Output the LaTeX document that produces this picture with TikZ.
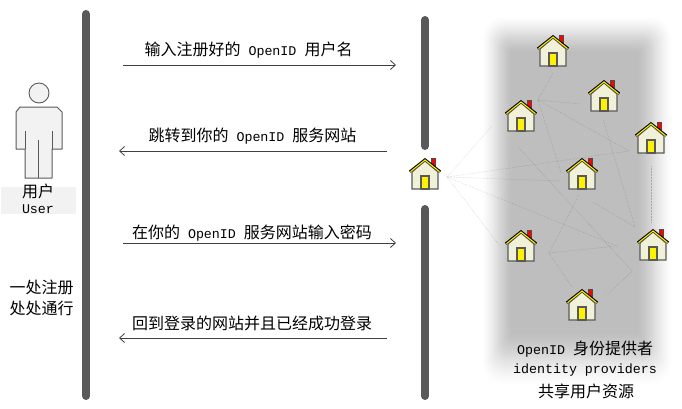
\documentclass[tikz,border=0pt]{standalone}
\usepackage{fontspec}
\usetikzlibrary{arrows.meta}
\setmainfont{Liberation Mono}
\newfontfamily\cjk{Noto Sans CJK SC}
\newcommand{\cn}[1]{{\fontsize{16}{18}\cjk #1}}
\definecolor{barcol}{HTML}{595959}
\definecolor{wallcol}{HTML}{F1F1DA}
\definecolor{usercol}{HTML}{F2F2F2}
\tikzset{
  bar/.style={line width=8pt,line cap=round,barcol},
  msg/.style={-{Straight Barb[length=5pt,width=9pt]},line width=0.8pt,black!75},
  link/.style={densely dotted,line width=0.5pt,draw=black,draw opacity=0.2},
  label/.style={font=\fontsize{13.33}{16}\selectfont,inner sep=0pt},
  house/.style={minimum width=32pt,minimum height=32pt,inner sep=0pt,
    append after command={pic at (\tikzlastnode.center) {homepic}}},
  homepic/.pic={
    \fill[red,draw=black!70,line width=0.7pt] (6.5,-17) rectangle (10.5,-7);
    \fill[wallcol,draw=black!65,line width=1.1pt] (-13,-3) -- (0,-14) -- (13,-3) -- (13,14) -- (-13,14) -- cycle;
    \draw[black,line width=2.4pt,line join=miter] (-15.3,-3.4) -- (0,-15.5) -- (15.3,-3.4);
    \draw[yellow,line width=1.1pt,line join=miter] (-14.5,-3.4) -- (0,-15) -- (14.5,-3.4);
    \fill[yellow,draw=black!65,line width=1.1pt] (-4,1) rectangle (4,14);
  },
}
\begin{document}
\begin{tikzpicture}[x=1pt,y=-1pt]
\useasboundingbox (0,0) rectangle (682,408);
% shaded panel behind the providers
\foreach \i in {0,...,39}{
  \pgfmathsetmacro{\tval}{\i/39}
  \pgfmathsetmacro{\pct}{25.5*(0.5*\tval+0.5*\tval*\tval*(3-2*\tval))}
  \pgfmathsetmacro{\rad}{2+20*(1-\tval)}
  \fill[black!\pct,rounded corners=\rad pt] (482+30*\tval,16+36*\tval) rectangle (672-34*\tval,386-54*\tval);
}
% bars
\coordinate (barla) at (86,14);
\coordinate (barlb) at (86,396);
\coordinate (barma) at (425,20);
\coordinate (barmb) at (425,146);
\coordinate (barmc) at (425,209);
\coordinate (barmd) at (425,396);
\draw[bar] (barla) -- (barlb);
\draw[bar] (barma) -- (barmb);
\draw[bar] (barmc) -- (barmd);
% user
\fill[usercol] (1,187) rectangle (76,214);
\draw[black!65,line width=0.9pt,fill=usercol] (39,93) circle (10);
\draw[black!65,line width=1pt,fill=usercol,line join=round] (20,107) -- (57,107) -- (62,112) -- (62,149) -- (52,149) -- (52,178) -- (25,178) -- (25,149) -- (16,149) -- (16,112) -- cycle;
\draw[black!65,line width=0.9pt] (25,131) -- (25,149);
\draw[black!65,line width=0.9pt] (52,131) -- (52,149);
\draw[black!65,line width=0.9pt] (38.5,140) -- (38.5,178);
\node[label] (usercn) at (38,191) {\cn{用户}};
\node[label] (useren) at (38,209) {User};
\node[label] (sloga) at (41.5,287) {\cn{一处注册}};
\node[label] (slogb) at (41.5,308) {\cn{处处通行}};
% messages
\coordinate (ma) at (123,65);
\coordinate (mb) at (396,65);
\coordinate (mc) at (387,151);
\coordinate (md) at (119,151);
\coordinate (me) at (123,243);
\coordinate (mf) at (396,243);
\coordinate (mg) at (387,338);
\coordinate (mh) at (119,338);
\draw[msg] (ma) -- (mb);
\draw[msg] (mc) -- (md);
\draw[msg] (me) -- (mf);
\draw[msg] (mg) -- (mh);
\node[label] (la) at (248.5,50) {\cn{输入注册好的} OpenID \cn{用户名}};
\node[label] (lb) at (252.5,136) {\cn{跳转到你的} OpenID \cn{服务网站}};
\node[label] (lc) at (252,233) {\cn{在你的} OpenID \cn{服务网站输入密码}};
\node[label] (ld) at (252,323) {\cn{回到登录的网站并且已经成功登录}};
% links
\coordinate (hub) at (447,177);
\coordinate (ca) at (492,126);
\coordinate (cb) at (629,151);
\coordinate (cc) at (561,181);
\coordinate (cd) at (617,246);
\coordinate (ce) at (500,246);
\coordinate (fa) at (538,100);
\coordinate (fb) at (553,73);
\coordinate (fc) at (581,104);
\coordinate (fd) at (561,173);
\coordinate (ga) at (518,147);
\coordinate (gb) at (632,271);
\coordinate (gc) at (607,295);
\coordinate (ja) at (549,253);
\coordinate (jb) at (579,195);
\coordinate (jc) at (572,287);
\coordinate (ka) at (603,119);
\coordinate (kb) at (635,227);
\coordinate (kc) at (593,202);
\coordinate (pa) at (651,166);
\coordinate (pb) at (651,222);
\foreach \a/\b in {hub/ca,hub/cb,hub/cc,hub/cd,hub/ce,fa/fb,fa/fc,fa/fd,fa/cb,ga/gb,gb/gc,ja/jb,ja/cd,ja/jc,ka/kb,kc/kb,pa/pb}
  \draw[link] (\a) -- (\b);
% houses
\node[house] (hmain) at (425,175) {};
\node[house] (htop) at (553,52) {};
\node[house] (hb) at (604,97) {};
\node[house] (hc) at (521,117) {};
\node[house] (hd) at (651,139) {};
\node[house] (he) at (582,175) {};
\node[house] (hf) at (521,247) {};
\node[house] (hg) at (653,246) {};
\node[house] (hh) at (582,306) {};
% captions
\node[label] (capa) at (585,349) {OpenID \cn{身份提供者}};
\node[label] (capb) at (585,370) {identity providers};
\node[label] (capc) at (586,391) {\cn{共享用户资源}};
\end{tikzpicture}
\end{document}
